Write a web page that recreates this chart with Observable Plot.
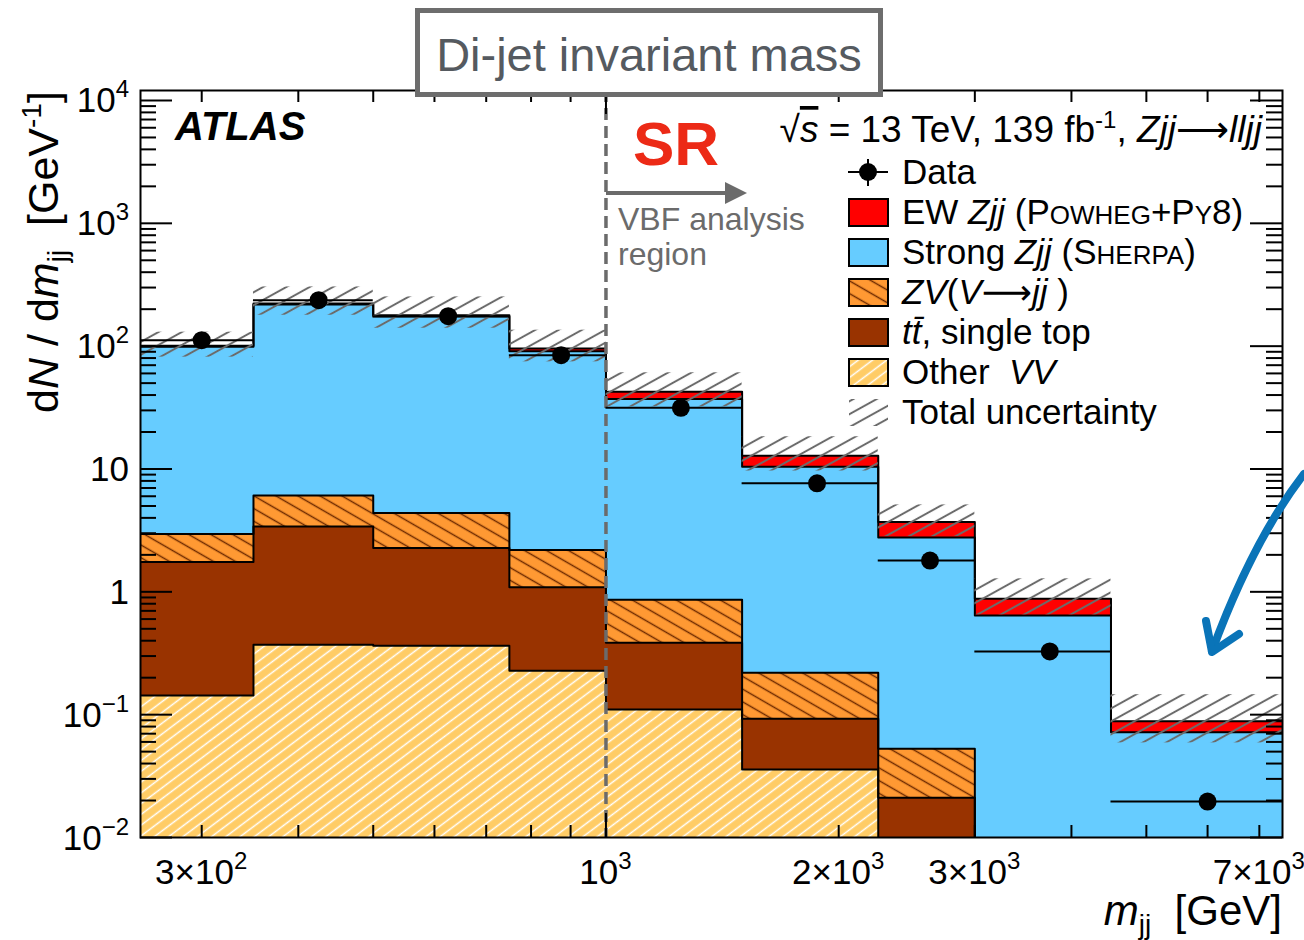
<!DOCTYPE html>
<html>
<head>
<meta charset="utf-8">
<script src="https://cdn.jsdelivr.net/npm/d3@7"></script>
<script src="https://cdn.jsdelivr.net/npm/@observablehq/plot@0.6"></script>
<style>
  html, body { margin: 0; padding: 0; background: #fff; overflow: hidden; }
  #chart svg { display: block; }
</style>
</head>
<body>
<div id="chart"></div>
<script>
// m_jj binning (GeV); each series gives dN/dm_jj per bin, in GeV^-1
const binEdges = [250, 350, 500, 750, 1000, 1500, 2250, 3000, 4500, 7500];
const dataX = [300, 425, 625, 875, 1250, 1875, 2625, 3750, 6000];
const dataY = [111.9, 236.6, 175.4, 84.5, 31.5, 7.65, 1.797, 0.327, 0.0196];

const otherVV   = [0.143, 0.371, 0.364, 0.228, 0.110, 0.0357, 0, 0, 0];
const ttbarTop  = [1.61, 3.03, 1.91, 0.86, 0.275, 0.057, 0.0211, 0, 0];
const zvJJ      = [1.21, 2.67, 2.10, 1.10, 0.476, 0.127, 0.0318, 0, 0];
const strongZjj = [96.0, 212.4, 169.6, 88.8, 36.2, 10.22, 2.711, 0.642, 0.0718];
const ewZjj     = [1.6, 3.9, 4.6, 4.8, 5.4, 2.36, 0.93, 0.235, 0.0164];

// total prediction uncertainty band (lower / upper edge)
const uncLow  = [81.4, 178.6, 140.0, 74.5, 32.1, 9.63, 2.82, 0.650, 0.0589];
const uncHigh = [130.0, 303.5, 251.8, 134.9, 60.7, 18.3, 5.10, 1.276, 0.1454];

// axis ticks and their labels: [mantissa text, exponent]
const yTickValues = [1e-2, 1e-1, 1, 10, 100, 1e3, 1e4];
const yTickText = [["10", "\u22122"], ["10", "\u22121"], ["1", ""], ["10", ""], ["10", "2"], ["10", "3"], ["10", "4"]];
const xTickValues = [300, 1000, 2000, 3000, 7000];
const xTickText = [["3\u00d710", "2"], ["10", "3"], ["2\u00d710", "3"], ["3\u00d710", "3"], ["7\u00d710", "3"]];
const xMinorTicks = [300, 400, 500, 600, 700, 800, 900, 2000, 3000, 4000, 5000, 6000, 7000];
const xMajorTicks = [1000];
const srBoundary = [1000];

// styling
const COLORS = {
  otherVV: "#ffcc66", ttbar: "#993300", zv: "#ff9933",
  strong: "#66ccff", ew: "#ff0000", unc: "#6b6b6b", grey: "#6b6b6b"
};
const FONT = "'Liberation Sans', Arial, Helvetica, 'DejaVu Sans', sans-serif";
const ARROW = "\u27f6";
const W = 1304, H = 940;
const M = {top: 90, right: 22, bottom: 103, left: 140};
const plotW = W - M.left - M.right, plotH = H - M.top - M.bottom;
const FLOOR = 1e-4; // stand-in for "empty" on the log axis (clipped away)

// stacking order, bottom to top
const stack = [
  {values: otherVV,   fill: COLORS.otherVV, pattern: "hatch-othervv"},
  {values: ttbarTop,  fill: COLORS.ttbar},
  {values: zvJJ,      fill: COLORS.zv, pattern: "hatch-zv"},
  {values: strongZjj, fill: COLORS.strong},
  {values: ewZjj,     fill: COLORS.ew}
];
let below = strongZjj.map(() => 0);
const layers = stack.map(s => {
  const lo = below.slice();
  const hi = lo.map((v, i) => v + s.values[i]);
  below = hi;
  return {...s, lo, hi};
});

const marks = [];
// filled stack segments
for (const L of layers) {
  const rows = L.values.map((v, i) => ({
    x1: binEdges[i], x2: binEdges[i + 1],
    y1: Math.max(L.lo[i], FLOOR), y2: L.hi[i], v
  })).filter(d => d.v > 0);
  marks.push(Plot.rect(rows, {x1: "x1", x2: "x2", y1: "y1", y2: "y2", fill: L.fill, shapeRendering: "crispEdges", clip: true}));
  if (L.pattern) {
    marks.push(Plot.rect(rows, {x1: "x1", x2: "x2", y1: "y1", y2: "y2", fill: `url(#${L.pattern})`, clip: true}));
  }
}
// histogram outlines of each cumulative level
for (const L of layers) {
  const pts = L.hi.map((v, i) => ({x: binEdges[i], y: Math.max(v, FLOOR)}));
  pts.push({x: binEdges[binEdges.length - 1], y: Math.max(L.hi[L.hi.length - 1], FLOOR)});
  marks.push(Plot.line(pts, {x: "x", y: "y", curve: "step-after", stroke: "black", strokeWidth: 2, clip: true}));
}
// total uncertainty hatch
const uncRows = uncLow.map((lo, i) => ({x1: binEdges[i], x2: binEdges[i + 1], y1: lo, y2: uncHigh[i]}));
marks.push(Plot.rect(uncRows, {x1: "x1", x2: "x2", y1: "y1", y2: "y2", fill: "url(#hatch-unc)", clip: true}));

// signal-region boundary
marks.push(Plot.ruleX(srBoundary, {stroke: COLORS.grey, strokeWidth: 3.5, strokeDasharray: "12,6"}));

// data with bin-width bars
const dataRows = dataY.map((y, i) => ({x: dataX[i], y, x1: binEdges[i], x2: binEdges[i + 1]}));
marks.push(Plot.ruleY(dataRows, {y: "y", x1: "x1", x2: "x2", stroke: "black", strokeWidth: 2}));
marks.push(Plot.dot(dataRows, {x: "x", y: "y", r: 9, fill: "black", stroke: "none"}));

// inward ticks on all four sides
const yMinorTicks = [];
for (let e = -2; e < 4; e++) for (let m = 2; m < 10; m++) yMinorTicks.push(+(m * Math.pow(10, e)).toPrecision(3));
const tk = {stroke: "black", strokeWidth: 2};
marks.push(
  Plot.tickY(yTickValues, {y: d => d, insetRight: plotW - 32, ...tk}),
  Plot.tickY(yTickValues, {y: d => d, insetLeft: plotW - 32, ...tk}),
  Plot.tickY(yMinorTicks, {y: d => d, insetRight: plotW - 16, ...tk}),
  Plot.tickY(yMinorTicks, {y: d => d, insetLeft: plotW - 16, ...tk}),
  Plot.tickX(xMinorTicks, {x: d => d, insetTop: plotH - 12, ...tk}),
  Plot.tickX(xMinorTicks, {x: d => d, insetBottom: plotH - 12, ...tk}),
  Plot.tickX(xMajorTicks, {x: d => d, insetTop: plotH - 24, ...tk}),
  Plot.tickX(xMajorTicks, {x: d => d, insetBottom: plotH - 24, ...tk}),
  Plot.frame({stroke: "black", strokeWidth: 2})
);

const chart = Plot.plot({
  width: W, height: H,
  marginTop: M.top, marginRight: M.right, marginBottom: M.bottom, marginLeft: M.left,
  x: {type: "log", domain: [250, 7500], axis: null},
  y: {type: "log", domain: [0.01, 12060], axis: null},
  style: {fontFamily: FONT, background: "white", overflow: "visible"},
  marks
});
document.getElementById("chart").appendChild(chart);

const NS = "http://www.w3.org/2000/svg";
function add(markup) {
  const g = document.createElementNS(NS, "g");
  g.setAttribute("font-family", FONT);
  g.setAttribute("text-anchor", "start");
  g.setAttribute("fill", "black");
  g.innerHTML = markup;
  chart.appendChild(g);
  return g;
}
const sx = chart.scale("x"), sy = chart.scale("y");

// hatch patterns
add(`<defs>
  <pattern id="hatch-unc" patternUnits="userSpaceOnUse" width="10" height="11.3" patternTransform="rotate(-29)">
    <line x1="0" y1="5.65" x2="10" y2="5.65" stroke="${COLORS.unc}" stroke-width="2"/>
  </pattern>
  <pattern id="hatch-zv" patternUnits="userSpaceOnUse" width="10" height="11" patternTransform="rotate(30)">
    <line x1="0" y1="5.5" x2="10" y2="5.5" stroke="#6e2a00" stroke-width="1.5"/>
  </pattern>
  <pattern id="hatch-othervv" patternUnits="userSpaceOnUse" width="10" height="8.6" patternTransform="rotate(-37)">
    <line x1="0" y1="4.3" x2="10" y2="4.3" stroke="#ffffff" stroke-width="1.5"/>
  </pattern>
</defs>`);

// tick labels with superscript exponents
const sup = e => e ? `<tspan dy="-15" font-size="24">${e}</tspan>` : "";
add(yTickValues.map((v, i) =>
  `<text x="129" y="${sy.apply(v) + 12.5}" text-anchor="end" font-size="35">${yTickText[i][0]}${sup(yTickText[i][1])}</text>`
).join("") + xTickValues.map((v, i) =>
  `<text x="${sx.apply(v)}" y="884" text-anchor="middle" font-size="35">${xTickText[i][0]}${sup(xTickText[i][1])}</text>`
).join(""));

// axis titles
add(`<text transform="translate(58,252) rotate(-90)" text-anchor="middle" font-size="43">d<tspan font-style="italic">N</tspan> / d<tspan font-style="italic">m</tspan><tspan font-size="28" dy="9">jj</tspan><tspan dy="-9">  [GeV</tspan><tspan font-size="28" dy="-17">-1</tspan><tspan dy="17">]</tspan></text>
<text x="1282" y="925" text-anchor="end" font-size="42"><tspan font-style="italic">m</tspan><tspan font-size="28" dy="9">jj</tspan><tspan dy="-9">  [GeV]</tspan></text>`);

// experiment labels and annotations
add(`<text x="175" y="140" font-size="40" font-weight="bold" font-style="italic">ATLAS</text>
<text x="1262" y="142" text-anchor="end" font-size="37">\u221a<tspan font-style="italic" text-decoration="overline">s</tspan> = 13 TeV, 139 fb<tspan dy="-14" font-size="24">-1</tspan><tspan dy="14">, </tspan><tspan font-style="italic">Zjj</tspan>${ARROW}<tspan font-style="italic">lljj</tspan></text>
<text x="633" y="165" font-size="62" font-weight="bold" fill="#ec2a16">SR</text>
<line x1="606" y1="193" x2="728" y2="193" stroke="${COLORS.grey}" stroke-width="4"/>
<polygon points="725,182 747,193 725,204" fill="${COLORS.grey}"/>
<text x="618" y="230" font-size="32" fill="${COLORS.grey}">VBF analysis</text>
<text x="618" y="265" font-size="32" fill="${COLORS.grey}">region</text>
<rect x="417.5" y="10.5" width="463" height="84" fill="white" stroke="#6d6d6d" stroke-width="5"/>
<text x="649" y="71" text-anchor="middle" font-size="47" fill="#555a60">Di-jet invariant mass</text>
<path d="M1304,474 Q1253,540 1212,651" fill="none" stroke="#0a74b8" stroke-width="8" stroke-linecap="round"/>
<path d="M1206,621 L1212,652 L1239,634" fill="none" stroke="#0a74b8" stroke-width="8" stroke-linecap="round" stroke-linejoin="round"/>`);

// legend
const legendEntries = [
  {kind: "data", label: "Data"},
  {kind: "box", fill: COLORS.ew, label: 'EW <tspan font-style="italic">Zjj</tspan> (P<tspan font-size="26">OWHEG</tspan>+P<tspan font-size="26">Y</tspan>8)'},
  {kind: "box", fill: COLORS.strong, label: 'Strong <tspan font-style="italic">Zjj</tspan> (S<tspan font-size="26">HERPA</tspan>)'},
  {kind: "box", fill: COLORS.zv, pattern: "hatch-zv", label: `<tspan font-style="italic">ZV</tspan>(<tspan font-style="italic">V</tspan>${ARROW}<tspan font-style="italic">jj</tspan> )`},
  {kind: "box", fill: COLORS.ttbar, label: '<tspan font-style="italic">t</tspan><tspan font-style="italic">t\u0304</tspan>, single top'},
  {kind: "box", fill: COLORS.otherVV, pattern: "hatch-othervv", label: 'Other  <tspan font-style="italic">VV</tspan>'},
  {kind: "unc", label: "Total uncertainty"}
];
add(legendEntries.map((e, k) => {
  const cy = 172 + 40 * k;
  let sym = "";
  if (e.kind === "data") {
    sym = `<line x1="848" y1="${cy}" x2="888" y2="${cy}" stroke="black" stroke-width="2"/>
           <line x1="868" y1="${cy - 13}" x2="868" y2="${cy + 14}" stroke="black" stroke-width="2"/>
           <circle cx="868" cy="${cy}" r="9" fill="black"/>`;
  } else if (e.kind === "box") {
    sym = `<rect x="849" y="${cy - 13}" width="39" height="27" fill="${e.fill}" stroke="none"/>` +
          (e.pattern ? `<rect x="849" y="${cy - 13}" width="39" height="27" fill="url(#${e.pattern})"/>` : "") +
          `<rect x="849" y="${cy - 13}" width="39" height="27" fill="none" stroke="black" stroke-width="2"/>`;
  } else {
    sym = `<rect x="849" y="${cy - 13}" width="39" height="27" fill="url(#hatch-unc)"/>`;
  }
  return sym + `<text x="902" y="${cy + 12}" font-size="35">${e.label}</text>`;
}).join(""));
</script>
</body>
</html>
